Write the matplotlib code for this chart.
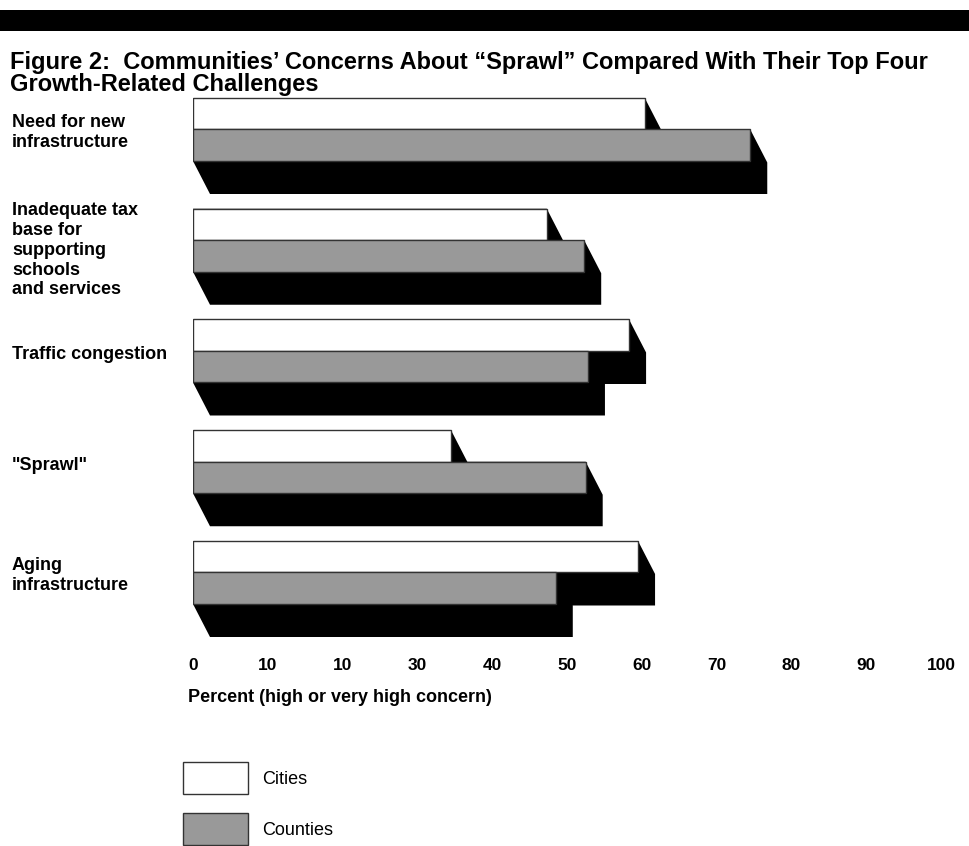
import numpy as np
import matplotlib
matplotlib.use("Agg")
import matplotlib.pyplot as plt
from matplotlib.patches import Polygon, Patch, Rectangle

plt.rcParams['font.family'] = ['Liberation Sans', 'DejaVu Sans']

# data
categories = ["Need for new\ninfrastructure",
              "Inadequate tax\nbase for\nsupporting\nschools\nand services",
              "Traffic congestion",
              "\"Sprawl\"",
              "Aging\ninfrastructure"]
cities = [60.4, 47.3, 58.3, 34.5, 59.5]
counties = [74.5, 52.3, 52.8, 52.5, 48.5]
tick_vals = [0, 10, 20, 30, 40, 50, 60, 70, 80, 90, 100]
tick_labels = ["0", "10", "10", "30", "40", "50", "60", "70", "80", "90", "100"]

W, H = 969, 846
fig = plt.figure(figsize=(W / 100, H / 100), dpi=100)

# axes placed in pixel terms
x0_px, x1_px = 193, 941
top_px, bot_px = 90, 640
ax = fig.add_axes([x0_px / W, 1 - bot_px / H, (x1_px - x0_px) / W, (bot_px - top_px) / H])
px_per_pct = (x1_px - x0_px) / 100

slot = 110.75          # px between groups
first_top = 98         # px, top of first white bar
bar_h = 31.5 / slot    # bar height in data units
dx = 17 / px_per_pct   # shadow depth in percent units
dy = 33 / slot

ax.set_xlim(0, 100)
ax.set_ylim((bot_px - first_top) / slot, (top_px - first_top) / slot)

def shadow(v, yt):
    yb = yt + bar_h
    pts = [(0, yt), (v, yt), (v + dx, yt + dy), (v + dx, yb + dy), (dx, yb + dy), (0, yb)]
    ax.add_patch(Polygon(pts, closed=True, facecolor='black', edgecolor='none', zorder=1))

pos = np.arange(len(categories))
for i in pos:
    shadow(cities[i], i)
    shadow(counties[i], i + bar_h)

ax.barh(pos, cities, height=bar_h, align='edge', color='white',
        edgecolor='#333333', linewidth=1, zorder=3)
ax.barh(pos + bar_h, counties, height=bar_h, align='edge', color='#999999',
        edgecolor='#333333', linewidth=1, zorder=3)

for s in ax.spines.values():
    s.set_visible(False)
ax.set_yticks([])
ax.set_xticks(tick_vals)
ax.set_xticklabels(tick_labels, fontsize=12.5, fontweight='bold')
ax.tick_params(axis='x', length=0, pad=13)

# category labels on the left
for i, lab in enumerate(categories):
    shift = 0.09 if lab.count("\n") > 2 else 0.03
    ax.text(-181 / px_per_pct, i + bar_h + shift, lab, ha='left', va='center',
            fontsize=13, fontweight='bold', linespacing=1.22)

# black band and title
fig.add_artist(Rectangle((0, 1 - 31 / H), 1, 21 / H, transform=fig.transFigure,
                         facecolor='black', edgecolor='none'))
fig.text(10 / W, 1 - 69 / H,
         "Figure 2:  Communities\u2019 Concerns About \u201cSprawl\u201d Compared With Their Top Four",
         ha='left', va='baseline', fontsize=17, fontweight='bold')
fig.text(10 / W, 1 - 91 / H, "Growth-Related Challenges",
         ha='left', va='baseline', fontsize=17, fontweight='bold')

fig.text(188 / W, 1 - 697 / H, "Percent (high or very high concern)",
         ha='left', va='center', fontsize=13, fontweight='bold')

# legend: box 65x32 px, 51 px between entries
fs = 13
fs_px = fs * 100 / 72
hh = (32 / fs_px - 0.245) / 0.65
handles = [Patch(facecolor='white', edgecolor='#333333', linewidth=1),
           Patch(facecolor='#999999', edgecolor='#333333', linewidth=1)]
fig.legend(handles, ["Cities", "Counties"], loc='upper left',
           bbox_to_anchor=(183 / W, 1 - 762 / H),
           frameon=False, fontsize=fs,
           handlelength=65 / fs_px, handleheight=hh,
           labelspacing=(51 - 32) / fs_px,
           handletextpad=14 / fs_px, borderpad=0, borderaxespad=0)

fig.savefig("out.png", dpi=100)
